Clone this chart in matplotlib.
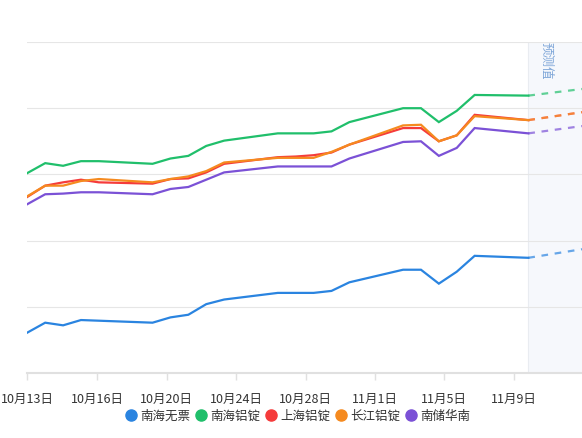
import matplotlib
matplotlib.use("Agg")
import matplotlib.pyplot as plt
from matplotlib.lines import Line2D

plt.rcParams['font.family'] = ['Noto Sans CJK SC', 'DejaVu Sans']

# day index from 10月13日 (weekends have no quotes)
days = [0, 1, 2, 3, 4, 7, 8, 9, 10, 11, 14, 15, 16, 17, 18, 21, 22, 23, 24, 25, 28]

nanhai_wupiao = [20661, 20676, 20672, 20680, 20679, 20676, 20684, 20688, 20704, 20711, 20721,
                 20721, 20721, 20724, 20737, 20756, 20756, 20735, 20753, 20777, 20774]
nanhai_lvding = [20902, 20917, 20913, 20920, 20920, 20916, 20924, 20928, 20943, 20951, 20962,
                 20962, 20962, 20965, 20979, 21000, 21000, 20979, 20996, 21020, 21019]
shanghai_lvding = [20866, 20883, 20888, 20892, 20888, 20886, 20893, 20894, 20903, 20916, 20926,
                   20927, 20929, 20933, 20945, 20970, 20970, 20950, 20959, 20990, 20982]
changjiang_lvding = [20867, 20883, 20883, 20890, 20893, 20888, 20893, 20897, 20905, 20918, 20925,
                     20925, 20925, 20934, 20945, 20974, 20975, 20950, 20959, 20988, 20982]
nanchu_huanan = [20855, 20870, 20871, 20873, 20873, 20870, 20878, 20881, 20892, 20903, 20912,
                 20912, 20912, 20912, 20924, 20949, 20950, 20928, 20940, 20970, 20962]

# forecast (dashed) from last day to right edge
pred_days = [28, 31]
pred_values = {
    '南海无票': [20774, 20787],
    '南海铝锭': [21019, 21029],
    '上海铝锭': [20982, 20994],
    '长江铝锭': [20982, 20994],
    '南储华南': [20962, 20973],
}

names = ['南海无票', '南海铝锭', '上海铝锭', '长江铝锭', '南储华南']
series = [nanhai_wupiao, nanhai_lvding, shanghai_lvding, changjiang_lvding, nanchu_huanan]
colors = ['#2a84e0', '#20bf6b', '#f53b3b', '#f58a1f', '#7b51d6']

tick_pos = [0, 3.91, 7.79, 11.67, 15.55, 19.42, 23.30, 27.18]
tick_labels = ['10月13日', '10月16日', '10月20日', '10月24日', '10月28日', '11月1日', '11月5日', '11月9日']

fig = plt.figure(figsize=(5.82, 4.38), dpi=100)
ax = fig.add_axes([27.3 / 582, 65 / 438, 1 - 27.3 / 582, 331 / 438])

ax.axvspan(28, 31, color='#f6f8fc', zorder=0, lw=0)
ax.axvline(28, color='#e9ecf1', lw=0.8, zorder=0.5)

for name, vals, c in zip(names, series, colors):
    ax.plot(days, vals, color=c, lw=1.6, zorder=3, solid_joinstyle='miter')
    ax.plot(pred_days, pred_values[name], color=c, lw=1.6, alpha=0.7,
            dashes=(3, 3), zorder=3)

ax.set_xlim(0, 31)
ax.set_ylim(20600, 21100)
ax.set_yticks([20700, 20800, 20900, 21000, 21100])
ax.yaxis.grid(True, color='#e6e6e6', lw=0.8, zorder=1)
ax.set_axisbelow(True)
ax.tick_params(axis='y', left=False, labelleft=False)

for s in ['top', 'right', 'left']:
    ax.spines[s].set_visible(False)
ax.spines['bottom'].set_color('#e0e0e0')
ax.spines['bottom'].set_linewidth(1.5)

ax.set_xticks(tick_pos)
ax.set_xticklabels(tick_labels, fontsize=9, color='#333333')
ax.tick_params(axis='x', color='#e0e0e0', length=5, width=1, pad=9)

ax.text(29.0, 21100, '预测值', rotation=-90, color='#7ea6d8', fontsize=9,
        ha='center', va='top', clip_on=False)

handles = [Line2D([], [], marker='o', linestyle='none', color=c, markersize=8) for c in colors]
fig.legend(handles, names, loc='center', bbox_to_anchor=(298 / 582, 1 - 416 / 438), ncol=5,
           frameon=False, fontsize=9, handlelength=0.8, handletextpad=0.3,
           columnspacing=0.5, labelcolor='#333333', borderpad=0)

fig.savefig('out.png', dpi=100)
